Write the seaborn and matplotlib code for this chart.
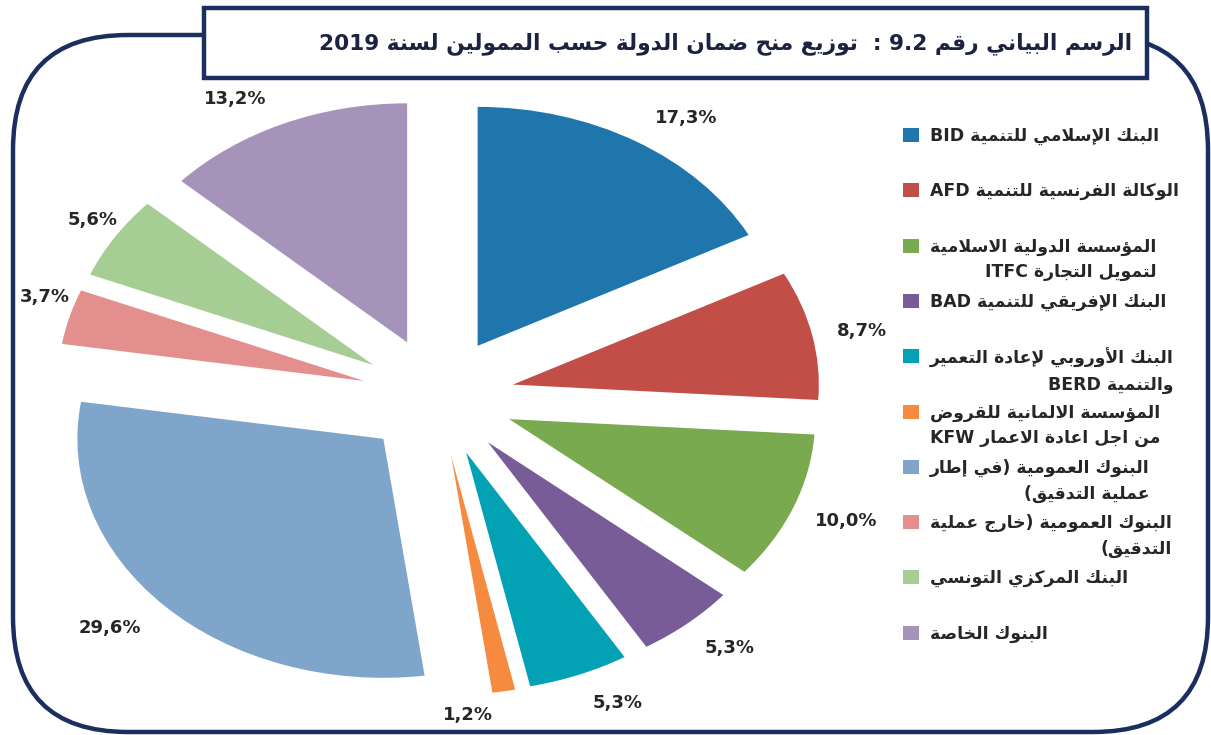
import re
import matplotlib
matplotlib.use("Agg")
import matplotlib.pyplot as plt
from matplotlib.patches import FancyBboxPatch, Rectangle
import seaborn as sns

# ---------------- data ----------------
categories = [
    "البنك الإسلامي للتنمية BID",
    "الوكالة الفرنسية للتنمية AFD",
    "المؤسسة الدولية الاسلامية\nلتمويل التجارة ITFC",
    "البنك الإفريقي للتنمية BAD",
    "البنك الأوروبي لإعادة التعمير\nوالتنمية BERD",
    "المؤسسة الالمانية للقروض\nمن اجل اعادة الاعمار KFW",
    "البنوك العمومية (في إطار\nعملية التدقيق)",
    "البنوك العمومية (خارج عملية\nالتدقيق)",
    "البنك المركزي التونسي",
    "البنوك الخاصة",
]
shares = [17.3, 8.7, 10.0, 5.3, 5.3, 1.2, 29.6, 3.7, 5.6, 13.2]
colors = ["#1F76AD", "#C24E48", "#79AA50", "#785C97", "#02A2B4",
          "#F68B40", "#7FA5CB", "#E28F8E", "#A6CD94", "#A593B9"]
title = "الرسم البياني رقم 9.2 :  توزيع منح ضمان الدولة حسب الممولين لسنة 2019"

# ---------------- minimal Arabic shaping + RTL ordering ----------------
DUAL = {'ئ': 0xFE89, 'ب': 0xFE8F, 'ت': 0xFE95, 'ث': 0xFE99, 'ج': 0xFE9D, 'ح': 0xFEA1,
        'خ': 0xFEA5, 'س': 0xFEB1, 'ش': 0xFEB5, 'ص': 0xFEB9, 'ض': 0xFEBD, 'ط': 0xFEC1,
        'ظ': 0xFEC5, 'ع': 0xFEC9, 'غ': 0xFECD, 'ف': 0xFED1, 'ق': 0xFED5, 'ك': 0xFED9,
        'ل': 0xFEDD, 'م': 0xFEE1, 'ن': 0xFEE5, 'ه': 0xFEE9, 'ي': 0xFEF1}
RIGHT = {'آ': 0xFE81, 'أ': 0xFE83, 'ؤ': 0xFE85, 'إ': 0xFE87, 'ا': 0xFE8D, 'ة': 0xFE93,
         'د': 0xFEA9, 'ذ': 0xFEAB, 'ر': 0xFEAD, 'ز': 0xFEAF, 'و': 0xFEED, 'ى': 0xFEEF}
LAMALEF = {'آ': 0xFEF5, 'أ': 0xFEF7, 'إ': 0xFEF9, 'ا': 0xFEFB}
MIRROR = {'(': ')', ')': '('}


def _is_ar(c):
    return c in DUAL or c in RIGHT


def _shape(s):
    out, i, n, prev = [], 0, len(s), False
    while i < n:
        c = s[i]
        nxt = s[i + 1] if i + 1 < n else ''
        if c == 'ل' and nxt in LAMALEF:
            b = LAMALEF[nxt]
            out.append(chr(b + 1 if prev else b))
            prev = False
            i += 2
            continue
        if c in DUAL:
            b = DUAL[c]
            jn = _is_ar(nxt)
            g = b + 3 if (prev and jn) else b + 1 if prev else b + 2 if jn else b
            out.append(chr(g))
            prev = True
        elif c in RIGHT:
            out.append(chr(RIGHT[c] + 1 if prev else RIGHT[c]))
            prev = False
        else:
            out.append(c)
            prev = False
        i += 1
    return ''.join(out)


def rtl(text):
    lines = []
    for line in text.split('\n'):
        v = _shape(line)[::-1]
        v = re.sub(r'[A-Za-z0-9][A-Za-z0-9.]*[A-Za-z0-9]|[A-Za-z0-9]',
                   lambda m: m.group(0)[::-1], v)
        v = ''.join(MIRROR.get(c, c) for c in v)
        lines.append(v)
    return '\n'.join(lines)


# ---------------- figure ----------------
sns.set_theme(style="white")
plt.rcParams['font.family'] = ['DejaVu Sans']

W, H = 1211, 735
fig = plt.figure(figsize=(W / 100, H / 100), dpi=100)
fig.patch.set_facecolor("white")

# decoration layer in pixel coordinates
bg = fig.add_axes([0, 0, 1, 1], zorder=0)
bg.set_xlim(0, W)
bg.set_ylim(H, 0)
bg.axis("off")

navy = "#1B2F5E"
frame = FancyBboxPatch((13, 35), 1195, 697,
                       boxstyle="round,pad=0,rounding_size=115",
                       fill=False, edgecolor=navy, linewidth=3.2, zorder=1)
bg.add_patch(frame)
tbox = Rectangle((204, 8), 943, 70, facecolor="white", edgecolor=navy,
                 linewidth=3.2, zorder=2)
bg.add_patch(tbox)
bg.text(726, 44, rtl(title), ha="center", va="center", fontsize=15.6,
        fontweight="bold", color="#1C2340", zorder=3)

# legend (Excel-like fixed pitch)
leg_y0, leg_pitch = 135, 55.3
for i, (lab, col) in enumerate(zip(categories, colors)):
    y = leg_y0 + i * leg_pitch
    bg.add_patch(Rectangle((903, y - 7), 16, 14, facecolor=col,
                           edgecolor="none", zorder=3))
    bg.text(930, y - 8, rtl(lab), ha="left", va="top",
            multialignment="right", fontsize=12.4, fontweight="bold",
            color="#262626", linespacing=1.55, zorder=3)

# pie layer
ax = fig.add_axes([0, 0, 1, 1], zorder=1)
ax.patch.set_alpha(0)
cx, cy, rx, ry = 438, 397, 306, 239
labels_txt = iter([f"{v:.1f}".replace('.', ',') + '%' for v in shares])
wedges, texts, autotexts = ax.pie(
    shares, colors=colors, startangle=90, counterclock=False,
    explode=[0.25] * len(shares), radius=1, pctdistance=1.17,
    autopct=lambda p: next(labels_txt),
    wedgeprops=dict(linewidth=0),
    textprops=dict(fontsize=13, fontweight="bold", color="#262626"))
ax.set_aspect("auto")
ax.set_xlim(-cx / rx, (W - cx) / rx)
ax.set_ylim((cy - H) / ry, cy / ry)
ax.axis("off")

# label nudges (pixels, screen y downward) to mimic Excel placement
nudges = [(23, 11), (-1, 4), (4, -2), (8, -6), (20, -10), (-45, -16),
          (-18, -7), (25, -9), (22, 5), (-28, 13)]
for t, (dx, dy) in zip(autotexts, nudges):
    x, y = t.get_position()
    t.set_position((x + dx / rx, y - dy / ry))

fig.savefig("out.png", dpi=100, facecolor="white")
